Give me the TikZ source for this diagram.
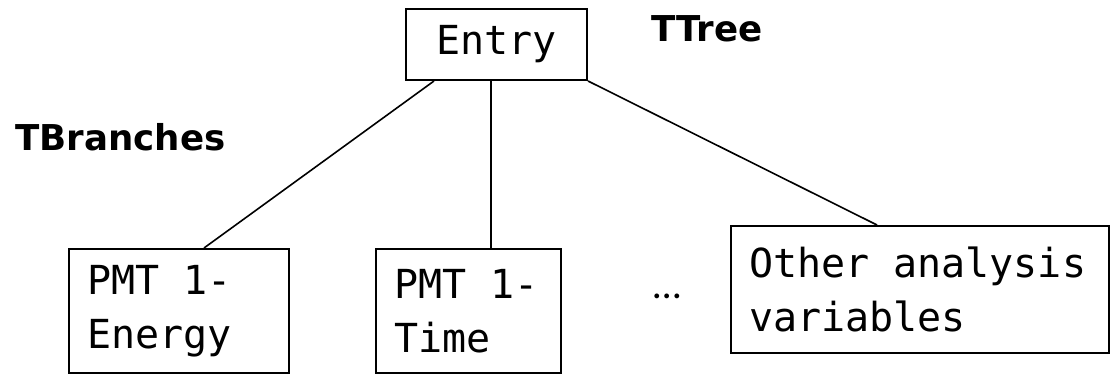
\documentclass[tikz,border=0pt]{standalone}
\usepackage{fontspec}
\setmonofont{DejaVu Sans Mono}
\newfontfamily\labelfont{DejaVu Sans}
\newfontfamily\dotsfont{Carlito}
\usepackage{tikz}

\begin{document}
\begin{tikzpicture}[x=0.5pt,y=-0.5pt,
	leaf/.style={rectangle,draw,line width=1pt,anchor=north west,inner xsep=9pt,align=left,
		font=\ttfamily\fontsize{20}{27}\selectfont,execute at begin node={\spaceskip=0pt\xspaceskip=0pt}},
	title/.style={anchor=base west,inner sep=0pt,font=\labelfont\bfseries\fontsize{17.8}{22}\selectfont},
	branch/.style={line width=0.8pt}]
		\useasboundingbox (0,0) rectangle (1112,374);
%		\draw[help lines] (0,0) grid[step=50] (1112,374);
		\path (405,8) node(entry) [leaf,minimum width=90.5pt,minimum height=35.5pt,align=center] {Entry};
		\path (651,42) node(ttree) [title] {TTree};
		\path (15,150) node(tbranches) [title] {TBranches};
		\path (68,248) node(pmt_energy) [leaf,text width=92pt,minimum height=62pt] {PMT 1-\\Energy};
		\path (375,248) node(pmt_time) [leaf,text width=74.5pt,minimum height=62pt] {PMT 1-\\Time};
		\path (653,298) node(dots) [anchor=base west,inner sep=0pt,font=\dotsfont\fontsize{20}{24}\selectfont] {…};
		\path (730,225) node(other_vars) [leaf,text width=171pt,minimum height=63.5pt] {Other analysis\\variables};

		\draw[branch] ([xshift=14.5pt]entry.south west) -- ([xshift=68pt]pmt_energy.north west);
		\draw[branch] ([xshift=43pt]entry.south west) -- ([xshift=58pt]pmt_time.north west);
		\draw[branch] (entry.south east) -- ([xshift=73.5pt]other_vars.north west);
	\end{tikzpicture}
\end{document}
